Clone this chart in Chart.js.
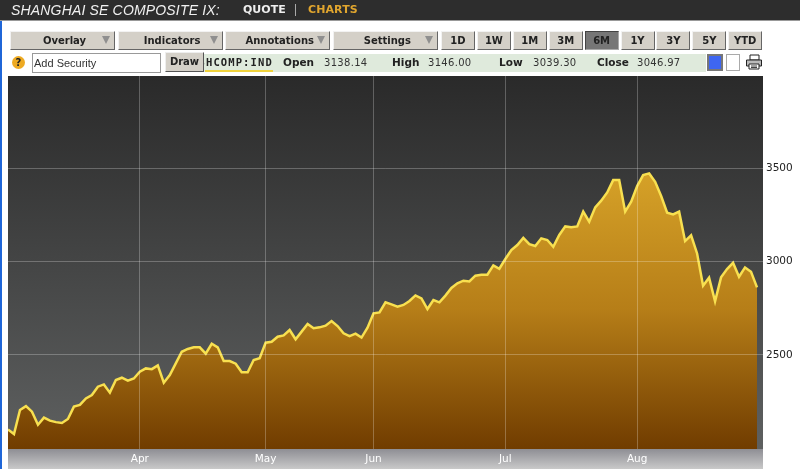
<!DOCTYPE html>
<html>
<head>
<meta charset="utf-8">
<script src="https://cdn.jsdelivr.net/npm/chart.js@4"></script>
<style>
  html, body { margin: 0; padding: 0; background: #fff; overflow: hidden; }
  #wrap { position: relative; width: 800px; height: 469px; font-family: "DejaVu Sans", sans-serif; }
  #chart { position: absolute; left: 0; top: 0; }
  .abs { position: absolute; white-space: nowrap; }
  #frame { left: 0; top: 20px; width: 2px; height: 449px; background: #1f66d8; }
  #head { left: 0; top: 0; width: 800px; height: 20px; background: #2d2d2d; border-bottom: 1px solid #999; }
  #title { left: 11px; top: 2px; font: italic 14px "Liberation Sans", sans-serif; color: #f0f0f0; letter-spacing: .17px; }
  #quote { left: 243px; top: 3px; font: bold 11px "DejaVu Sans", sans-serif; color: #eee; letter-spacing: 0; }
  #sep { left: 295px; top: 4px; width: 1px; height: 12px; background: #aaa; }
  #charts { left: 308px; top: 3px; font: bold 11px "DejaVu Sans", sans-serif; color: #e0a52e; letter-spacing: .1px; }
  .btn { top: 31px; height: 19px; box-sizing: border-box; background: #d4d0c8; border-top: 1px solid #f2f2f2; border-left: 1px solid #f2f2f2;
         border-right: 1px solid #666; border-bottom: 1px solid #666; text-align: center; font: bold 10px/17px "DejaVu Sans", sans-serif; color: #222; }
  .menu { padding-left: 4px; }
  .menu i { position: absolute; right: 4px; top: 4px; width: 0; height: 0; border-left: 4px solid transparent; border-right: 4px solid transparent; border-top: 8px solid #8f8f8f; }
  .on { background: #767676; color: #222; border-color: #444 #aaa #aaa #444; }
  #bar { left: 203px; top: 54px; width: 503px; height: 18px; background: #dfeadc; }
  #help { left: 12px; top: 56px; width: 13px; height: 13px; border-radius: 7px; background: #eeaa22; font: bold 10px/13px "DejaVu Sans", sans-serif; text-align: center; color: #222; }
  #sec { left: 32px; top: 53px; width: 129px; height: 20px; box-sizing: border-box; border: 1px solid #999; background: #fff; font: 11px/18px "Liberation Sans", sans-serif; color: #333; padding-left: 1px; }
  #draw { left: 165px; top: 52px; width: 39px; height: 20px; box-sizing: border-box; background: #d4d0c8; border: 1px solid #eee; border-right-color: #555; border-bottom-color: #555; font: bold 10px/18px "DejaVu Sans", sans-serif; text-align: center; color: #222; }
  .lab { top: 55px; font: bold 10.5px/14px "DejaVu Sans", sans-serif; color: #222; }
  .num { top: 56px; font: 10px/14px "DejaVu Sans", sans-serif; color: #333; letter-spacing: .3px; }
  #ticker { left: 198.6px; top: 55px; font: bold 10.5px/14px "DejaVu Sans Mono", monospace; color: #222; letter-spacing: 1.1px; }
  #under { left: 205px; top: 70px; width: 68px; height: 2px; background: #f0d23c; }
  #blue { left: 707px; top: 54px; width: 12px; height: 13px; background: #3e66f2; border: 2px solid #777; }
  #white { left: 726px; top: 54px; width: 12px; height: 15px; background: #fff; border: 1px solid #aaa; }
</style>
</head>
<body>
<div id="wrap">
  <canvas id="chart" width="800" height="469"></canvas>
  <div class="abs" id="frame"></div>
  <div class="abs" id="head"></div>
  <div class="abs" id="title">SHANGHAI SE COMPOSITE IX:</div>
  <div class="abs" id="quote">QUOTE</div>
  <div class="abs" id="sep"></div>
  <div class="abs" id="charts">CHARTS</div>
  <div id="buttons"></div>
  <div class="abs" id="bar"></div>
  <div class="abs" id="help">?</div>
  <div class="abs" id="sec">Add Security</div>
  <div class="abs" id="ticker">SHCOMP:IND</div>
  <div class="abs" id="under"></div>
  <div class="abs" id="draw">Draw</div>
  <div id="quotes"></div>
  <div class="abs" id="blue"></div>
  <div class="abs" id="white"></div>
  <svg class="abs" style="left:745px;top:54px" width="18" height="16" viewBox="0 0 18 16">
    <path d="M5 1h9v5H5z" fill="#fff" stroke="#222"/>
    <path d="M1.5 6h15v6h-15z" fill="#bbb" stroke="#222"/>
    <path d="M4 10h10v5H4z" fill="#fff" stroke="#222"/>
    <path d="M6 12h6M6 13.5h6" stroke="#444"/>
  </svg>
</div>

<script>
// index readings, one point every ~6px
const closes = [
  2101, 2076, 2205, 2226, 2196, 2126, 2164, 2148, 2140, 2135, 2157, 2223, 2232, 2267, 2285, 2330,
  2342, 2298, 2366, 2378, 2362, 2374, 2410, 2428, 2424, 2444, 2351, 2392, 2455, 2517, 2532, 2541,
  2541, 2507, 2560, 2541, 2467, 2467, 2453, 2407, 2407, 2473, 2483, 2566,
  2571, 2598, 2605, 2634, 2584, 2625, 2666, 2643, 2648, 2657, 2682, 2655, 2616, 2601, 2614, 2593,
  2646, 2723, 2728, 2782, 2771, 2759, 2768, 2789, 2819, 2803, 2746, 2794, 2782, 2818, 2859, 2884,
  2898, 2894, 2925, 2930, 2930, 2980, 2962, 3014, 3062, 3089, 3127, 3094,
  3084, 3125, 3116, 3080, 3143, 3189, 3184, 3189, 3268, 3214, 3291, 3327, 3371, 3437, 3437, 3268,
  3321, 3405, 3464, 3473, 3428, 3352, 3262, 3253, 3268, 3110, 3141, 3044, 2871, 2914, 2787, 2916,
  2960, 2994, 2919, 2969, 2946, 2862
];
const monthLabels = ["Apr", "May", "Jun", "Jul", "Aug"];
const monthIndex = [22, 43, 61, 83, 105];
const priceTicks = [2500, 3000, 3500];

const menuLabels = ["Overlay", "Indicators", "Annotations", "Settings"];
const rangeLabels = ["1D", "1W", "1M", "3M", "6M", "1Y", "3Y", "5Y", "YTD"];
const quoteLabels = ["Open", "High", "Low", "Close"];
const quoteValues = ["3138.14", "3146.00", "3039.30", "3046.97"];

// toolbar
const buttons = document.getElementById("buttons");
menuLabels.forEach((name, i) => {
  const b = document.createElement("div");
  b.className = "abs btn menu";
  b.style.left = (10 + i * 107.6) + "px";
  b.style.width = "105px";
  b.innerHTML = name + "<i></i>";
  buttons.appendChild(b);
});
rangeLabels.forEach((name, i) => {
  const b = document.createElement("div");
  b.className = "abs btn" + (name === "6M" ? " on" : "");
  b.style.left = (441 + i * 35.9) + "px";
  b.style.width = "34px";
  b.textContent = name;
  buttons.appendChild(b);
});
const quotes = document.getElementById("quotes");
const labelX = [283, 392, 499, 597];
const valueX = [324, 428, 533, 637];
quoteLabels.forEach((name, i) => {
  quotes.insertAdjacentHTML("beforeend",
    `<div class="abs lab" style="left:${labelX[i]}px">${name}</div>` +
    `<div class="abs num" style="left:${valueX[i]}px">${quoteValues[i]}</div>`);
});

const panelBackground = {
  id: "panelBackground",
  beforeDraw(chart) {
    const { ctx, chartArea: a } = chart;
    const bg = ctx.createLinearGradient(0, a.top, 0, a.bottom);
    bg.addColorStop(0, "#2a2a2a");
    bg.addColorStop(1, "#5e6060");
    ctx.fillStyle = bg;
    ctx.fillRect(a.left, a.top, a.right - a.left, a.bottom - a.top);
    const strip = ctx.createLinearGradient(0, a.bottom, 0, 469);
    strip.addColorStop(0, "#8e8e94");
    strip.addColorStop(1, "#c9c9c9");
    ctx.fillStyle = strip;
    ctx.fillRect(a.left, a.bottom, a.right - a.left, 469 - a.bottom);
  }
};

new Chart(document.getElementById("chart"), {
  type: "line",
  plugins: [panelBackground],
  data: {
    datasets: [{
      data: closes.map((v, i) => ({ x: i, y: v })),
      borderColor: "#f8e050",
      borderWidth: 2.5,
      pointRadius: 0,
      tension: 0,
      fill: "start",
      backgroundColor: ctx => {
        const a = ctx.chart.chartArea;
        if (!a) return "#a06a10";
        const g = ctx.chart.ctx.createLinearGradient(0, 170, 0, a.bottom);
        g.addColorStop(0, "#d6a228");
        g.addColorStop(0.5, "#b67e18");
        g.addColorStop(1, "#703c00");
        return g;
      }
    }]
  },
  options: {
    responsive: false,
    animation: false,
    layout: { padding: { left: 8, top: 76, right: 0, bottom: 0 } },
    plugins: { legend: { display: false }, tooltip: { enabled: false } },
    scales: {
      x: {
        type: "linear",
        min: 0,
        max: 126,
        afterBuildTicks: s => { s.ticks = monthIndex.map(v => ({ value: v })); },
        afterFit: s => { s.height = 20; },
        grid: { color: "rgba(255,255,255,0.25)", z: 1, drawTicks: false },
        border: { display: false },
        ticks: {
          autoSkip: false,
          maxRotation: 0,
          padding: 4,
          color: "#fff",
          font: { family: "DejaVu Sans", size: 10.5 },
          callback: v => monthLabels[monthIndex.indexOf(v)]
        }
      },
      y: {
        position: "right",
        min: 1996,
        max: 3995,
        afterBuildTicks: s => { s.ticks = priceTicks.map(v => ({ value: v })); },
        afterFit: s => { s.width = 37; },
        grid: { color: "rgba(255,255,255,0.25)", z: 1, drawTicks: false },
        border: { display: false },
        ticks: {
          padding: 3,
          color: "#222",
          font: { family: "DejaVu Sans", size: 10.5 },
          callback: v => String(v)
        }
      }
    }
  }
});
</script>
</body>
</html>
